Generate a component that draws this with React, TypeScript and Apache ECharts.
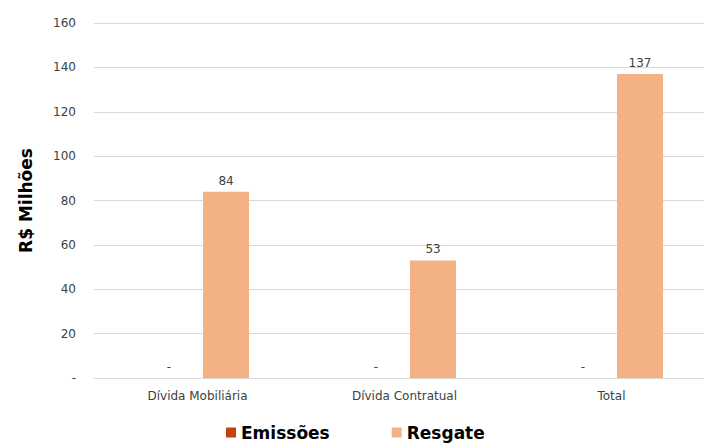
import React, { useEffect, useRef } from "react";
import * as echarts from "echarts";

const categories = ["Dívida Mobiliária", "Dívida Contratual", "Total"];
const emissoes = [0, 0, 0];
const resgate = [84, 53, 137];
const seriesNames = ["Emissões", "Resgate"];
const yTicks = { min: 0, max: 160, interval: 20 };

const FONT = "'DejaVu Sans', sans-serif";
const TEXT = "#404040";
const GRID = "#D9D9D9";

const dashZero = (v: number) => (v === 0 ? "-" : String(v));

export default function App() {
  const ref = useRef<HTMLDivElement>(null);

  useEffect(() => {
    document.body.style.margin = "0";
    if (!ref.current) return;
    const chart = echarts.init(ref.current, undefined, { renderer: "svg" });
    const label = {
      show: true,
      position: "top" as const,
      distance: 5,
      color: TEXT,
      fontFamily: FONT,
      fontSize: 12,
      formatter: (p: any) => dashZero(p.value),
    };
    chart.setOption({
      animation: false,
      textStyle: { fontFamily: FONT },
      // the plot runs a little past the right edge of the visible frame
      grid: { left: 94, top: 23, width: 621, height: 355 },
      legend: {
        left: 221,
        bottom: 1,
        icon: "rect",
        itemWidth: 10,
        itemHeight: 10,
        itemGap: 62,
        textStyle: { fontFamily: FONT, fontWeight: "bold", fontSize: 17, color: "#000" },
        data: seriesNames,
      },
      xAxis: {
        type: "category",
        data: categories,
        axisTick: { show: false },
        axisLine: { lineStyle: { color: GRID } },
        axisLabel: { color: TEXT, fontFamily: FONT, fontSize: 12, margin: 12 },
      },
      yAxis: {
        type: "value",
        min: yTicks.min,
        max: yTicks.max,
        interval: yTicks.interval,
        name: "R$ Milhões",
        nameLocation: "middle",
        nameGap: 60,
        nameTextStyle: { fontFamily: FONT, fontWeight: "bold", fontSize: 17, color: "#000" },
        axisLabel: { color: TEXT, fontFamily: FONT, fontSize: 12, margin: 18, formatter: dashZero },
        splitLine: { lineStyle: { color: GRID } },
      },
      series: [
        {
          name: seriesNames[0],
          type: "bar",
          data: emissoes,
          itemStyle: { color: "#C5410E" },
          barWidth: 46,
          barGap: "24%",
          label,
        },
        {
          name: seriesNames[1],
          type: "bar",
          data: resgate,
          itemStyle: { color: "#F4B183" },
          barWidth: 46,
          label,
        },
      ],
    });
    return () => chart.dispose();
  }, []);

  return (
    <div style={{ width: 704, height: 447, overflow: "hidden" }}>
      <div ref={ref} style={{ width: 720, height: 447 }} />
    </div>
  );
}
